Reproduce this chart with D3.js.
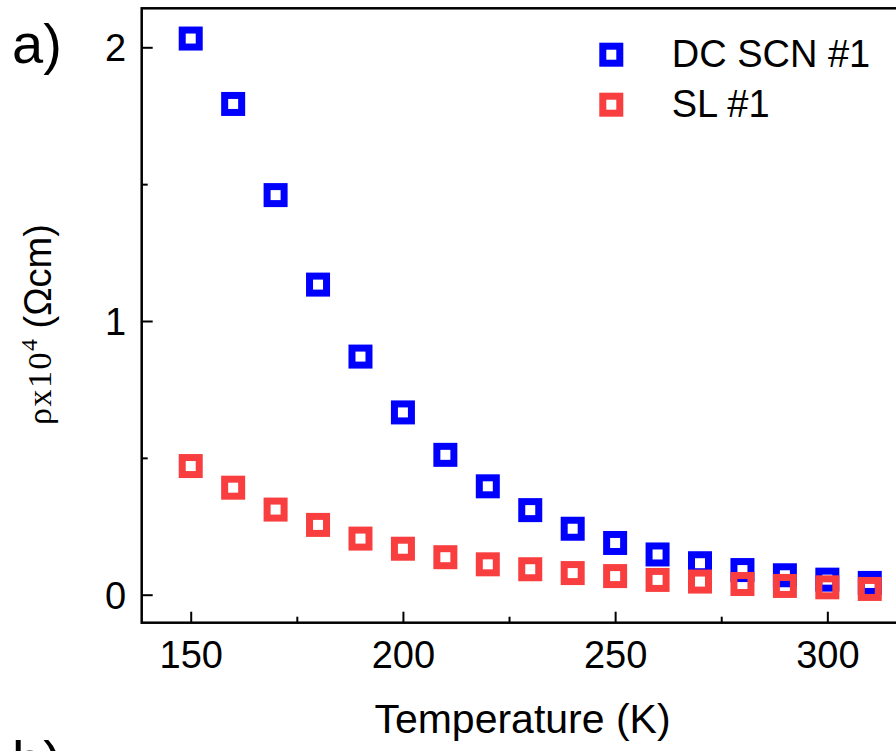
<!DOCTYPE html>
<html>
<head>
<meta charset="utf-8">
<script src="https://cdn.jsdelivr.net/npm/d3@7"></script>
<style>
  html, body { margin: 0; padding: 0; background: #fff; }
  svg { display: block; }
  text { font-family: "Liberation Sans", Arial, sans-serif; fill: #000; }
</style>
</head>
<body>
<svg id="chart" width="896" height="751"></svg>
<script>
// ---- data ----
const temperatures = [150, 160, 170, 180, 190, 200, 210, 220, 230, 240, 250, 260, 270, 280, 290, 300, 310];
const dcScn = [2.032, 1.793, 1.460, 1.133, 0.870, 0.666, 0.511, 0.396, 0.309, 0.241, 0.189, 0.147, 0.115, 0.090, 0.071, 0.055, 0.043];
const sl    = [0.470, 0.391, 0.311, 0.255, 0.205, 0.168, 0.137, 0.111, 0.093, 0.079, 0.068, 0.054, 0.048, 0.039, 0.032, 0.027, 0.021];
const seriesNames = ["DC SCN #1", "SL #1"];
const xMajorTicks = [150, 200, 250, 300];
const xMinorTicks = [175, 225, 275];
const yMajorTicks = [0, 1, 2];
const yMinorTicks = [0.5, 1.5];

const colors = ["#0000ff", "#f83e3e"];

const svg = d3.select("#chart");
const pLeft = 141.7, pRight = 905, pTop = 8.3, pBottom = 622.7;

const x = d3.scaleLinear().domain([138.45, 318.3]).range([pLeft, pRight]);
const y = d3.scaleLinear().domain([-0.1023, 2.1425]).range([pBottom, pTop]);

// ---- markers ----
const series = [dcScn, sl];
series.forEach((vals, si) => {
  svg.append("g").selectAll("rect")
    .data(temperatures.map((t, i) => ({t, v: vals[i]})))
    .join("rect")
    .attr("x", d => x(d.t) - 8.5)
    .attr("y", d => y(d.v) - 8.5)
    .attr("width", 17).attr("height", 17)
    .attr("fill", "none")
    .attr("stroke", colors[si])
    .attr("stroke-width", 7);
});

// ---- axes ----
svg.append("rect")
  .attr("x", pLeft).attr("y", pTop)
  .attr("width", pRight - pLeft).attr("height", pBottom - pTop)
  .attr("fill", "none").attr("stroke", "#000").attr("stroke-width", 2.5);

const xAxis = d3.axisBottom(x).tickValues(xMajorTicks).tickSize(-11).tickPadding(0).tickFormat(d3.format("d"));
const gx = svg.append("g").attr("transform", `translate(0,${pBottom})`).call(xAxis);
gx.select(".domain").remove();
gx.selectAll(".tick line").attr("stroke-width", 2);
gx.selectAll(".tick text").attr("y", 0).attr("dy", "45.5px")
  .style("font-size", "38px").style("font-family", "Liberation Sans, Arial, sans-serif");

const xMinor = d3.axisBottom(x).tickValues(xMinorTicks).tickSize(-6).tickFormat("");
const gxm = svg.append("g").attr("transform", `translate(0,${pBottom})`).call(xMinor);
gxm.select(".domain").remove();
gxm.selectAll(".tick line").attr("stroke-width", 2);

const yAxis = d3.axisLeft(y).tickValues(yMajorTicks).tickSize(-11).tickPadding(0).tickFormat(d3.format("d"));
const gy = svg.append("g").attr("transform", `translate(${pLeft},0)`).call(yAxis);
gy.select(".domain").remove();
gy.selectAll(".tick line").attr("stroke-width", 2);
gy.selectAll(".tick text").attr("x", -15.5).attr("dy", "0.35em")
  .style("font-size", "38px").style("font-family", "Liberation Sans, Arial, sans-serif");

const yMinor = d3.axisLeft(y).tickValues(yMinorTicks).tickSize(-6).tickFormat("");
const gym = svg.append("g").attr("transform", `translate(${pLeft},0)`).call(yMinor);
gym.select(".domain").remove();
gym.selectAll(".tick line").attr("stroke-width", 2);

// ---- axis titles ----
svg.append("text")
  .attr("x", 522.5).attr("y", 733)
  .attr("text-anchor", "middle")
  .style("font-size", "41px")
  .text("Temperature (K)");

const yt = svg.append("text")
  .attr("transform", "translate(51,425) rotate(-90)")
  .attr("text-anchor", "start");
yt.append("tspan").style("font-family", "Liberation Serif, Times New Roman, serif")
  .style("font-size", "34px").style("letter-spacing", "1.5px").text("ρx10");
yt.append("tspan").style("font-family", "Liberation Serif, Times New Roman, serif")
  .style("font-size", "24px").attr("dy", -14).text("4");
yt.append("tspan").style("font-size", "38px").attr("dy", 14).text(" (Ωcm)");

// ---- legend ----
const legendY = [54.7, 104.7];
seriesNames.forEach((name, i) => {
  svg.append("rect")
    .attr("x", 611.3 - 8.5).attr("y", legendY[i] - 8.5)
    .attr("width", 17).attr("height", 17)
    .attr("fill", "none").attr("stroke", colors[i]).attr("stroke-width", 7);
  svg.append("text")
    .attr("x", 671.7).attr("y", legendY[i] + 12.5)
    .style("font-size", "38px")
    .text(name);
});

// ---- panel labels ----
svg.append("text").attr("x", 12).attr("y", 63).style("font-size", "56px").text("a)");
svg.append("text").attr("x", 12).attr("y", 780).style("font-size", "56px").text("b)");
</script>
</body>
</html>
